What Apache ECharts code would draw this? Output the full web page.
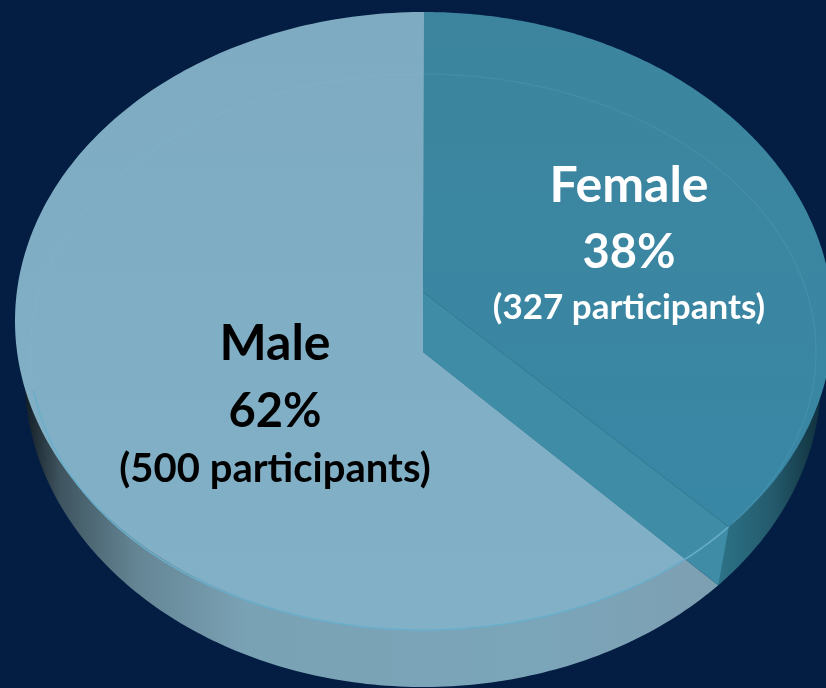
<!DOCTYPE html>
<html>
<head>
<meta charset="utf-8">
<title>Participants by gender</title>
<style>
    html, body { margin: 0; padding: 0; background: #041e43; }
    #chart { width: 826px; height: 688px; }
</style>
<script src="https://cdn.jsdelivr.net/npm/echarts@6/dist/echarts.min.js"></script>
</head>
<body>
<div id="chart"></div>
<script>
// 数据
const categories = ['Male', 'Female'];
const percents = [62, 38];
const participants = [500, 327];

// tilted disc seen in perspective, so the apex is not at the ellipse centre
const topFace = {cx: 424, cy: 321, rx: 409, ry: 309, apexX: 423, apexY: 292};
const bottomFace = {cx: 423, cy: 378, rx: 398, ry: 309, apexX: 423, apexY: 352};
const rim = {cx: 423, cy: 352, rx: 393, ry: 278};
const viewTwist = -1.3;

const labelStyles = [
    {x: 275, color: '#000', ys: [344, 412, 469], sizes: [50, 47, 40]},
    {x: 629, color: '#fff', ys: [186, 253, 308], sizes: [50, 47, 35]}
];

// walk along the rim, angle measured clockwise from 12 o'clock
function rimPoint (e, deg) {
    const a = deg * Math.PI / 180;
    return [e.cx + e.rx * Math.sin(a), e.cy - e.ry * Math.cos(a)];
}

// where the slice edge leaving the apex at this angle meets the ellipse
function edgeAngle (e, deg) {
    const a = deg * Math.PI / 180;
    const dx = Math.sin(a);
    const dy = -Math.cos(a);
    const ox = (e.apexX - e.cx) / e.rx;
    const oy = (e.apexY - e.cy) / e.ry;
    const b = ox * dx + oy * dy;
    const c = ox * ox + oy * oy - 1;
    const t = -b + Math.sqrt(b * b - c);
    return Math.atan2(ox + t * dx, -(oy + t * dy)) * 180 / Math.PI;
}

function arc (e, from, to) {
    const pts = [];
    const steps = 240;
    for (let i = 0; i <= steps; i++) {
        pts.push(rimPoint(e, from + (to - from) * i / steps));
    }
    return pts;
}

function slice (e, from, to) {
    return [[e.apexX, e.apexY]].concat(arc(e, from, to));
}

function label (i) {
    const s = labelStyles[i];
    const texts = [categories[i], percents[i] + '%', '(' + participants[i] + ' participants)'];
    return texts.map((t, k) => ({
        type: 'text',
        silent: true,
        style: {
            x: s.x,
            y: s.ys[k],
            text: t,
            fill: s.color,
            font: 'bold ' + s.sizes[k] + 'px Lato',
            textAlign: 'center',
            textVerticalAlign: 'middle'
        }
    }));
}

function renderItem (params, api) {
    const i = params.dataIndex;
    const share = percents[1] / (percents[0] + percents[1]) * 360 + viewTwist;
    const topEnd = edgeAngle(topFace, share);
    const bottomEnd = edgeAngle(bottomFace, share);
    const children = [];

    if (i === 0) {
        children.push({
            type: 'polygon',
            shape: {points: slice(bottomFace, bottomEnd, 360)},
            style: {
                fill: new echarts.graphic.LinearGradient(0, 0, 1, 0, [
                    {offset: 0, color: '#141e26'},
                    {offset: 0.05, color: '#3e545f'},
                    {offset: 0.16, color: '#648594'},
                    {offset: 0.32, color: '#7aa2b5'},
                    {offset: 0.75, color: '#7ba5b9'},
                    {offset: 1, color: '#7e9fb2'}
                ])
            }
        });
        // runs a little past 12 o'clock so the seam under Female stays clean
        children.push({
            type: 'polygon',
            shape: {points: slice(topFace, topEnd, 360.4)},
            style: {
                fill: new echarts.graphic.LinearGradient(0, 0, 0, 1, [
                    {offset: 0, color: '#7eabc1'},
                    {offset: 1, color: '#82b1c7'}
                ])
            }
        });
    } else {
        children.push({
            type: 'polygon',
            shape: {points: slice(bottomFace, 40, bottomEnd)},
            style: {
                fill: new echarts.graphic.LinearGradient(0, 0, 1, 0, [
                    {offset: 0, color: '#2c7186'},
                    {offset: 0.75, color: '#2c7186'},
                    {offset: 0.88, color: '#245a6c'},
                    {offset: 1, color: '#10303d'}
                ])
            }
        });
        const a = rimPoint(topFace, topEnd);
        const b = rimPoint(bottomFace, bottomEnd);
        const strip = [[topFace.apexX, topFace.apexY], a, b, [bottomFace.apexX, bottomFace.apexY]];
        children.push({
            type: 'polygon',
            shape: {points: strip},
            style: {fill: '#3f8ca6'}
        });
        children.push({
            type: 'polygon',
            shape: {points: slice(topFace, 0, topEnd)},
            style: {
                fill: new echarts.graphic.LinearGradient(0, 0, 0, 1, [
                    {offset: 0, color: '#3d859e'},
                    {offset: 1, color: '#3887a5'}
                ])
            }
        });
        children.push({
            type: 'polyline',
            shape: {points: [[topFace.apexX, topFace.apexY], a]},
            style: {stroke: '#347a92', lineWidth: 1, fill: null}
        });
        // faint back rim, stronger at the front
        children.push({
            type: 'polyline',
            shape: {points: arc(rim, -98, 128)},
            style: {stroke: 'rgba(150,205,225,0.1)', lineWidth: 1.5, fill: null}
        });
        children.push({
            type: 'polyline',
            shape: {points: arc(rim, 129, 262)},
            style: {stroke: '#69aecb', lineWidth: 1.5, fill: null}
        });
    }
    return {type: 'group', children: children.concat(label(i))};
}

const myChart = echarts.init(document.getElementById('chart'));
myChart.setOption({
    animation: false,
    backgroundColor: '#041e43',
    series: [{
        type: 'custom',
        coordinateSystem: 'none',
        silent: true,
        renderItem: renderItem,
        data: categories.map((c, i) => ({name: c, value: [percents[i], participants[i]]}))
    }]
});
</script>
</body>
</html>
